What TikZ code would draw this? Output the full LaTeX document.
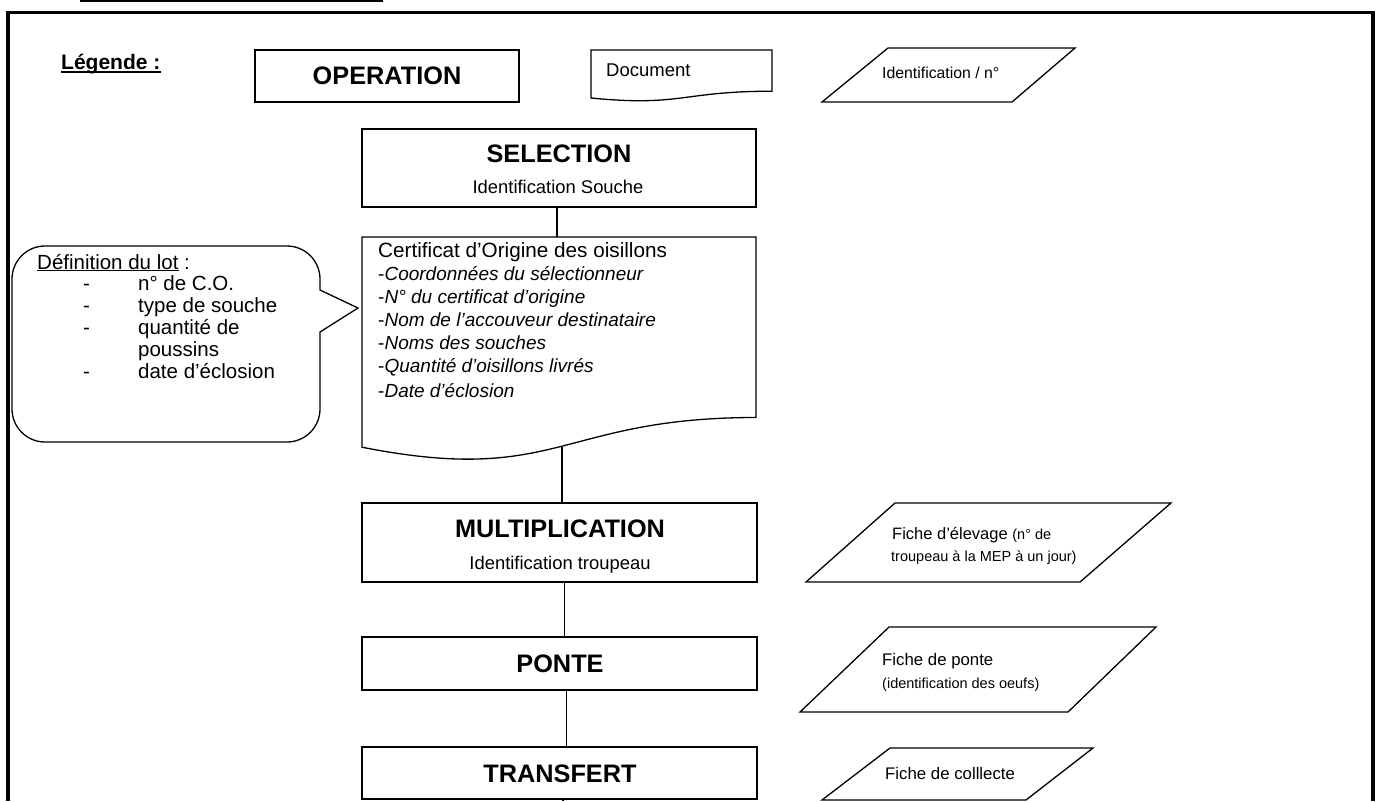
\documentclass[tikz,border=0pt]{standalone}
\usepackage{fontspec}
\setmainfont{Liberation Sans}
\begin{document}
\begin{tikzpicture}[x=1pt,y=-1pt,
  box/.style={draw, line width=1.3pt, inner sep=0pt, rectangle},
  shp/.style={draw, line width=1.3pt, line join=miter},
  txt/.style={inner sep=0pt, anchor=base west},
  ctxt/.style={inner sep=0pt, anchor=base},
  ttl/.style={ctxt, font=\fontsize{25.3}{30}\selectfont\bfseries},
  sub/.style={ctxt, font=\fontsize{18.4}{22}\selectfont},
  body/.style={txt, font=\fontsize{20.7}{24}\selectfont},
  ital/.style={txt, font=\fontsize{19}{23}\selectfont},
  call/.style={txt, font=\fontsize{20.5}{24}\selectfont},
  big/.style={txt, font=\fontsize{16.8}{20}\selectfont},
  small/.style={txt, font=\fontsize{14.5}{18}\selectfont},
  conn/.style={line width=1.3pt},
]
\useasboundingbox (0,0) rectangle (1381,801);

% top rule and frame
\draw[line width=2pt] (80,1) -- (383,1);
\draw[line width=3.5pt, line join=miter] (8,801) -- (8,12.5) -- (1373,12.5) -- (1373,801);

% legend
\node[txt, font=\fontsize{21}{25}\selectfont\bfseries] (leg) at (61,69) {Légende :};
\draw[line width=1.6pt] ([yshift=-3pt]leg.base west) -- ([yshift=-3pt]leg.base east);

\node[box, minimum width=264pt, minimum height=52pt] (op) at (387,76) {};
\node[ttl] (opT) at (387,84) {OPERATION};

\draw[shp] (591,50) -- (772,50) -- (772,91.2) .. controls (681.5,91.2) and (681.5,106.9) .. (591,98) -- cycle;
\node[txt, font=\fontsize{18.5}{22}\selectfont] (docT) at (606,76) {Document};

\draw[shp] (822,102) -- (888,48) -- (1075,48) -- (1012,102) -- cycle;
\node[txt, font=\fontsize{15.8}{19}\selectfont] (idT) at (882,78) {Identification / n°};

% SELECTION
\node[box, minimum width=394pt, minimum height=78pt] (sel) at (559,168) {};
\node[ttl] (selT) at (559,162) {SELECTION};
\node[sub] (selS) at (558,193) {Identification Souche};

% certificate document
\draw[shp] (362,237) -- (756,237) -- (756,417.5) .. controls (559,417.5) and (559,486.1) .. (362,447.2) -- cycle;
\coordinate (certT) at (557,237);
\coordinate (certB) at (562,447);
\node[body] (c0) at (378,257) {Certificat d’Origine des oisillons};
\node[ital] (c1) at (378,280) {-\textit{Coordonnées du sélectionneur}};
\node[ital] (c2) at (378,303) {-\textit{N° du certificat d’origine}};
\node[ital] (c3) at (378,326) {-\textit{Nom de l’accouveur destinataire}};
\node[ital] (c4) at (378,349) {-\textit{Noms des souches}};
\node[ital] (c5) at (378,372) {-\textit{Quantité d'oisillons livrés}};
\node[ital] (c6) at (378,397) {-\textit{Date d’éclosion}};

% callout
\draw[shp] (45,246) -- (287,246) .. controls (305.2,246) and (320,260.8) .. (320,279) -- (320,290) -- (358,308) -- (320,332) -- (320,409) .. controls (320,427.2) and (305.2,442) .. (287,442) -- (45,442) .. controls (26.8,442) and (12,427.2) .. (12,409) -- (12,279) .. controls (12,260.8) and (26.8,246) .. (45,246) -- cycle;
\node[call] (defT) at (37,269) {\underline{Définition du lot} :};
\node[call] (d1) at (83,290) {-};
\node[call] (i1) at (138,290) {n° de C.O.};
\node[call] (d2) at (83,312) {-};
\node[call] (i2) at (138,312) {type de souche};
\node[call] (d3) at (83,334) {-};
\node[call] (i3) at (138,334) {quantité de};
\node[call] (i3b) at (138,356) {poussins};
\node[call] (d4) at (83,378) {-};
\node[call] (i4) at (138,378) {date d’éclosion};

% MULTIPLICATION
\node[box, minimum width=395pt, minimum height=79pt] (mult) at (559.5,542.5) {};
\node[ttl] (multT) at (560,537) {MULTIPLICATION};
\node[sub] (multS) at (560,569) {Identification troupeau};

\draw[shp] (806,582) -- (895,503) -- (1171,503) -- (1080,582) -- cycle;
\node[txt, font=\fontsize{16.5}{20}\selectfont] (elv1) at (892,539) {Fiche d'élevage \fontsize{14.5}{18}\selectfont(n° de};
\node[small] (elv2) at (891,561) {troupeau à la MEP à un jour)};

% PONTE
\node[box, minimum width=395pt, minimum height=53pt] (ponte) at (559.5,663.5) {};
\node[ttl] (ponteT) at (560,672) {PONTE};

\draw[shp] (800,712) -- (889,627) -- (1156,627) -- (1068,712) -- cycle;
\node[big] (pf1) at (882,665) {Fiche de ponte};
\node[small] (pf2) at (882,688) {(identification des oeufs)};

% TRANSFERT
\node[box, minimum width=395pt, minimum height=52pt] (trans) at (559.5,773) {};
\node[ttl] (transT) at (560,782) {TRANSFERT};

\draw[shp] (822,800) -- (890,748) -- (1093,748) -- (1026,800) -- cycle;
\node[big] (col) at (885,779) {Fiche de colllecte};

% connectors
\draw[conn] (sel.south -| certT) -- (certT);
\draw[conn] (certB) -- (certB |- mult.north);
\draw[conn] ([xshift=5pt]mult.south) -- ([xshift=5pt]mult.south |- ponte.north);
\draw[conn] ([xshift=7pt]ponte.south) -- ([xshift=7pt]ponte.south |- trans.north);
\coordinate (endB) at (563,801);
\draw[conn] (trans.south -| endB) -- (endB);
\end{tikzpicture}
\end{document}
